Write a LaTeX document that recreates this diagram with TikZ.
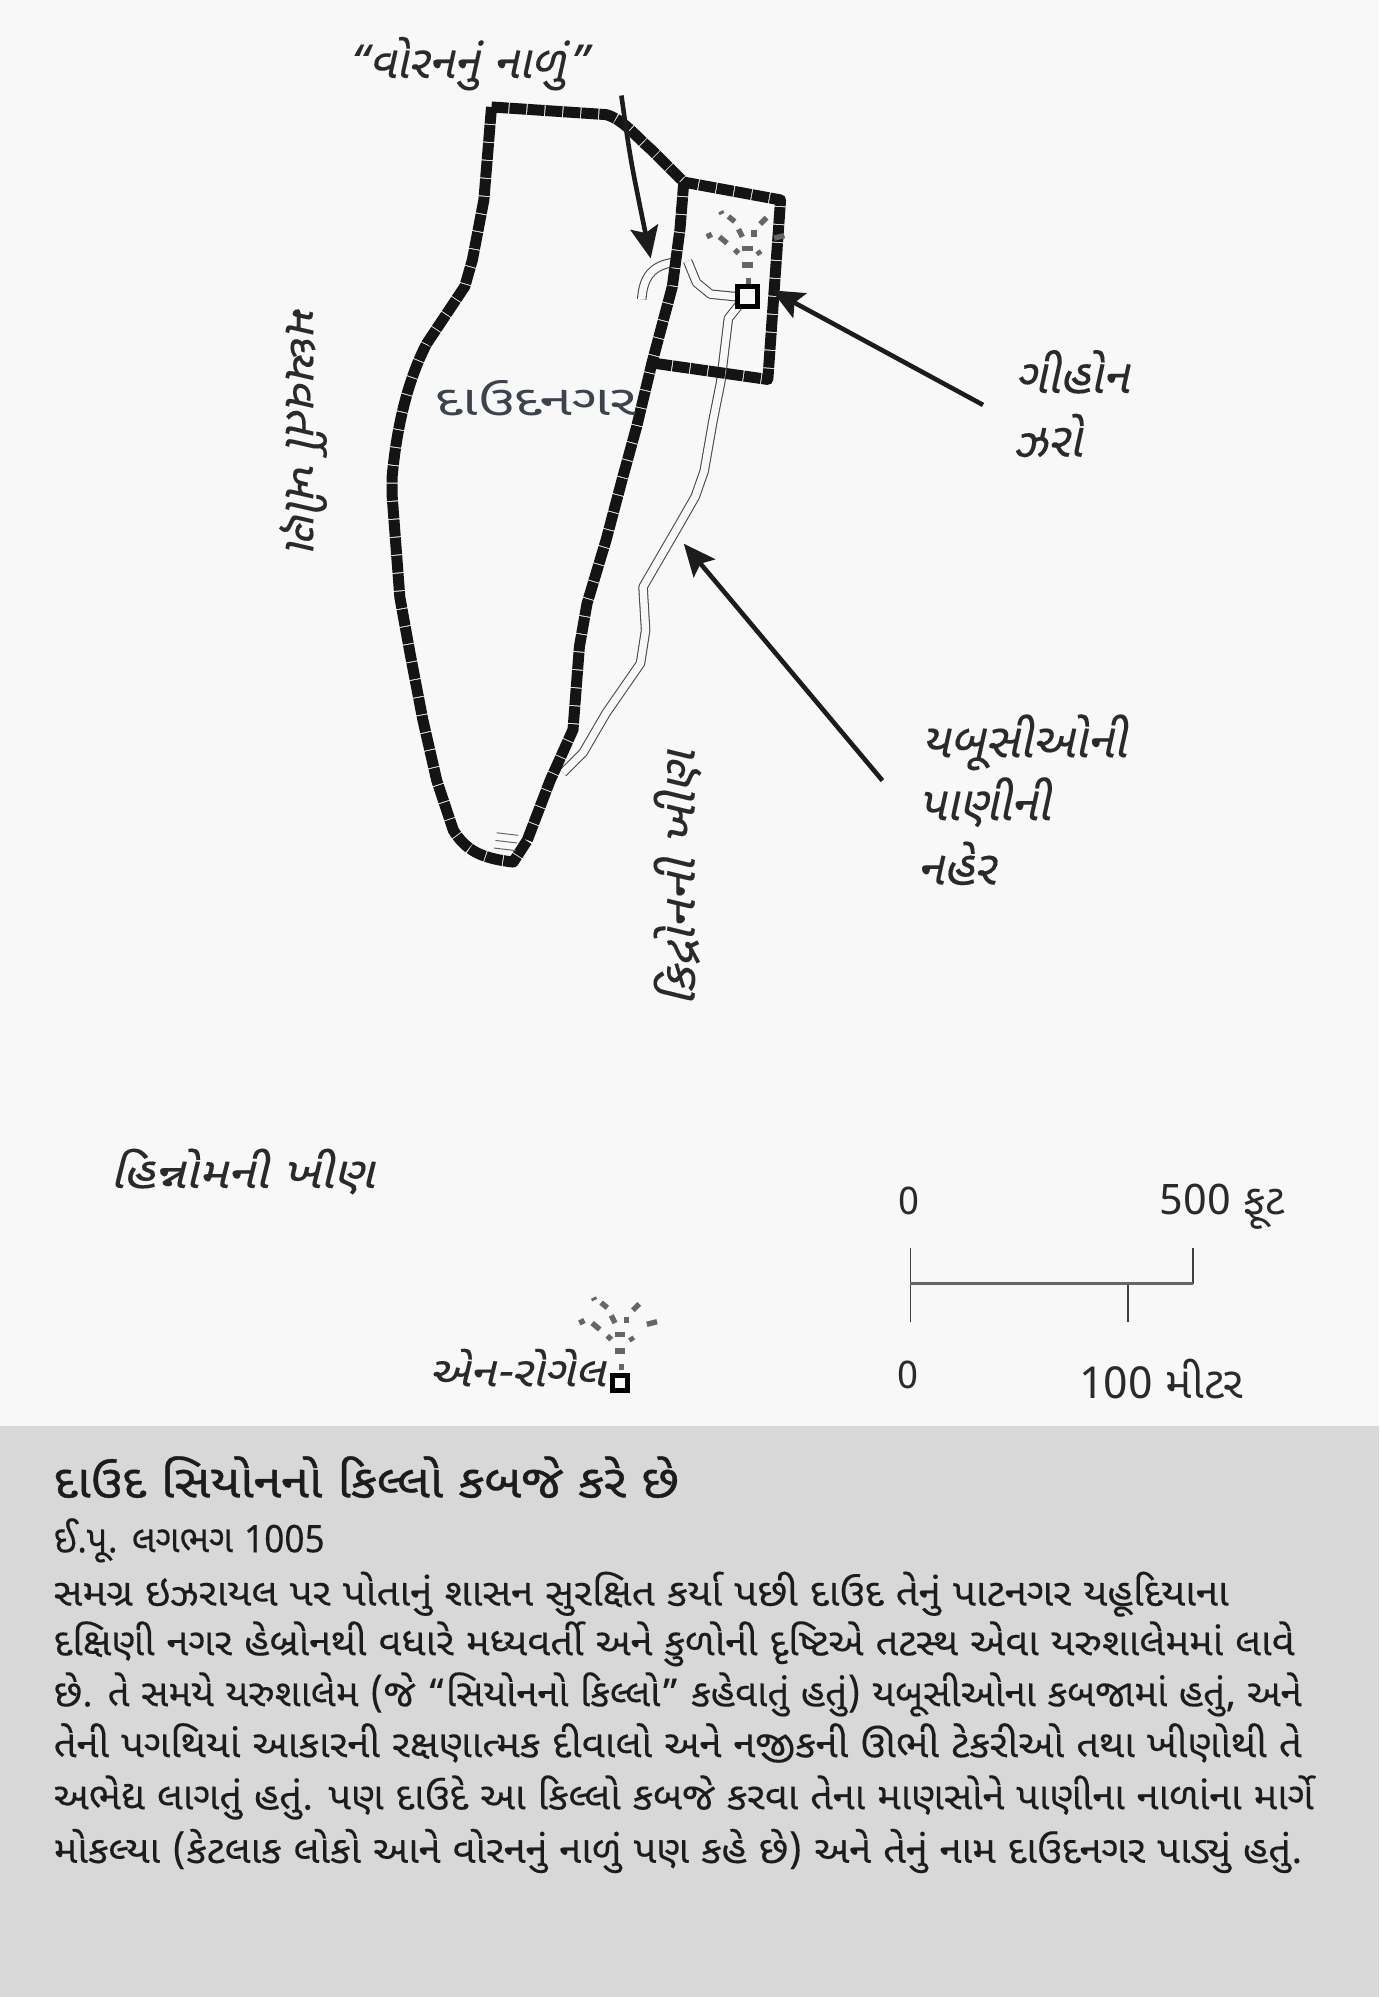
\documentclass[tikz,border=0pt]{standalone}
\usepackage{fontspec}
\usepackage{graphicx}
\usetikzlibrary{arrows.meta,calc}
\setmainfont{Noto Sans Gujarati UI}[Script=Gujarati]
\newfontfamily\guj[Script=Gujarati]{Noto Sans Gujarati UI}
\newfontfamily\gujb[Script=Gujarati,FakeBold=0.8]{Noto Sans Gujarati UI}
\newfontfamily\gujm[Script=Gujarati,FakeBold=0.2]{Noto Sans Gujarati UI}
\newfontfamily\gujit[Script=Gujarati,FakeSlant=0.22,FakeBold=0.2]{Noto Sans Gujarati UI}
\definecolor{pagebg}{HTML}{F8F8F8}
\definecolor{panelbg}{HTML}{D8D8D8}
\definecolor{ink}{HTML}{1C1C1C}
\definecolor{labelink}{HTML}{2A2A2A}
\definecolor{citylabel}{HTML}{3C424E}
\definecolor{springgray}{HTML}{666666}
\tikzset{
  x=1.2733pt,y=-1.2733pt,
  wall/.style={line width=11pt,color=black!92,dash pattern=on 17pt off 1pt,line join=round},
  canalouter/.style={line width=9.5pt,color=black!72,line join=round},
  canalinner/.style={line width=7.4pt,color=pagebg,line join=round},
  pointer/.style={line width=4.6pt,color=ink,-{Stealth[length=32pt,width=28pt,inset=6pt]}},
  thinscale/.style={line width=1.6pt,color=black!75},
  maplabel/.style={font=\gujit\fontsize{48}{52}\selectfont,text=labelink,inner sep=0pt},
  plainlabel/.style={font=\guj\fontsize{38}{42}\selectfont,text=labelink,inner sep=0pt},
  boxmark/.style={draw=black,fill=pagebg,line width=4.5pt,minimum size=20pt,inner sep=0pt},
  body/.style={anchor=base west,inner sep=0pt,text=ink,font=\gujm\fontsize{38}{42}\selectfont},
}
\newcommand{\fitw}[2]{\resizebox{#1pt}{\height}{#2}}
\newcommand{\springdash}[1]{%
  \foreach \ax/\ay/\bx/\by in {-21/-67/-20/-65,-15/-63/-10/-59,15/-62/10/-57,-7/-53/-4/-47,5/-52/5/-47,-32/-47/-28/-49,-22/-47/-16/-42,21/-46/29/-48,-10/-37/-7/-34,-4/-38/4/-38,8/-36/10/-33,-4/-25/4/-25,1/-15/1/-10}{%
    \draw[springgray,line width=5.4pt] ($(#1)+(\ax,\ay)$) -- ($(#1)+(\bx,\by)$);
  }%
}
\begin{document}
\begin{tikzpicture}
\useasboundingbox (0,0) rectangle (1083,1568.3);
\fill[pagebg] (0,0) rectangle (1083,1120);
\fill[panelbg] (0,1120) rectangle (1083,1568.3);

% canal
\draw[canalouter] (530,206) .. controls (512,208) and (505,218) .. (504,235);
\draw[canalinner] (530,206) .. controls (512,208) and (505,218) .. (504,235);
\draw[canalouter] (540,205) -- (547,222) -- (558,231) -- (578,233);
\draw[canalinner] (540,205) -- (547,222) -- (558,231) -- (578,233);
\path[save path=\canalpath] (580,240) -- (572,250) -- (566,300) -- (560,330) -- (553,370) -- (546,390) -- (534,411) -- (505,461) -- (507,495) -- (503,521) -- (476,560) -- (458,591) -- (442,607);
\draw[canalouter,use path=\canalpath];
\draw[canalinner,use path=\canalpath];

% walls
\draw[wall] (386,84) -- (380,157) -- (371,204) -- (365,225) -- (335,270) .. controls (322,295) and (312,330) .. (308,374) -- (308,390) -- (314,469) -- (322,513) -- (332,565) -- (343,613) -- (356,652) .. controls (366,668) and (378,674) .. (403,677) -- (414,660) -- (432,613) -- (450,573) -- (455,508) -- (461,474) -- (476,424) -- (489,375) -- (500,335) -- (512,285) -- (528,225) -- (534,180) -- (537,143);
\draw[wall] (386,84) -- (476,90) .. controls (490,94) and (500,108) .. (512,118) -- (537,143) -- (613,157) -- (603,298) -- (512,285);

% wear ticks at the south tip
\draw[springgray,line width=1pt] (390,654) -- (407,656) (389,660) -- (406,662) (388,666) -- (405,668);

% springs
\node[boxmark] (gihonbox) at (587,233) {};
\springdash{gihonbox}
\node[boxmark,minimum size=15pt] (rogelbox) at (487,1086) {};
\springdash{rogelbox}

% labels
\node[maplabel,font=\gujit\fontsize{46}{50}\selectfont] (warren) at (367,50) {\fitw{243}{“વોરનનું નાળું”}};
\node[maplabel] (gihon) at (842,292) {ગીહોન};
\node[maplabel] (spring) at (823,342) {ઝરો};
\node[plainlabel,font=\guj\fontsize{42}{46}\selectfont,text=citylabel] (city) at (421,313) {\fitw{201}{દાઉદનગર}};
\node[maplabel] (jeb1) at (804,583) {યબૂસીઓની};
\node[maplabel] (jeb2) at (773,630) {પાણીની};
\node[maplabel] (jeb3) at (751,678) {નહેર};
\node[maplabel,font=\gujit\fontsize{46}{50}\selectfont,rotate=-90] (central) at (238,335) {\fitw{245}{મધ્યવર્તી ખીણ}};
\node[maplabel,font=\gujit\fontsize{46}{50}\selectfont,rotate=90] (kidron) at (532,690) {\fitw{255}{કિદ્રોનની ખીણ}};
\node[maplabel,font=\gujit\fontsize{44}{48}\selectfont] (hinnom) at (190,920) {\fitw{264}{હિન્નોમની ખીણ}};
\node[maplabel,font=\gujit\fontsize{42}{46}\selectfont] (rogel) at (406,1074) {\fitw{176}{એન-રોગેલ}};

% pointers
\coordinate (warrenA) at (488,75);
\coordinate (warrenM) at (495,125);
\coordinate (warrenB) at (511,203);
\coordinate (gihonA) at (772,318);
\coordinate (gihonB) at (606,228);
\coordinate (jebA) at (693,613);
\coordinate (jebB) at (537,427);
\draw[pointer] (warrenA) .. controls (warrenM) .. (warrenB);
\draw[pointer] (gihonA) -- (gihonB);
\draw[pointer] (jebA) -- (jebB);

% scale
\coordinate (s0) at (715,1008);
\coordinate (s1) at (937,1008);
\coordinate (s2) at (886,1008);
\coordinate (s0t) at (715,980);
\coordinate (s0b) at (715,1038);
\coordinate (s1t) at (937,980);
\coordinate (s2b) at (886,1038);
\draw[thinscale] (s0t) -- (s0b);
\draw[thinscale] (s1t) -- (s1);
\draw[thinscale] (s2) -- (s2b);
\draw[line width=2.4pt,color=black!60] (s0) -- (s1);
\node[plainlabel] (feet0) at (714,943) {0};
\node[plainlabel,font=\guj\fontsize{42}{46}\selectfont] (feet) at (960,948) {\fitw{125}{500 ફૂટ}};
\node[plainlabel] (m0) at (713,1080) {0};
\node[plainlabel,font=\guj\fontsize{44}{48}\selectfont] (meters) at (912,1083) {\fitw{164}{100 મીટર}};

% caption
\node[body,font=\gujb\fontsize{46}{50}\selectfont] (title) at (42,1176) {\fitw{625}{દાઉદ સિયોનનો કિલ્લો કબજે કરે છે}};
\node[body] (sub) at (42,1219) {\fitw{271}{ઈ.પૂ. લગભગ 1005}};
\node[body] (l1) at (42,1261) {\fitw{1175}{સમગ્ર ઇઝરાયલ પર પોતાનું શાસન સુરક્ષિત કર્યા પછી દાઉદ તેનું પાટનગર યહૂદિયાના}};
\node[body] (l2) at (42,1300) {\fitw{1241}{દક્ષિણી નગર હેબ્રોનથી વધારે મધ્યવર્તી અને કુળોની દૃષ્ટિએ તટસ્થ એવા યરુશાલેમમાં લાવે}};
\node[body] (l3) at (42,1340) {\fitw{1248}{છે. તે સમયે યરુશાલેમ (જે “સિયોનનો કિલ્લો” કહેવાતું હતું) યબૂસીઓના કબજામાં હતું, અને}};
\node[body] (l4) at (42,1380) {\fitw{1248}{તેની પગથિયાં આકારની રક્ષણાત્મક દીવાલો અને નજીકની ઊભી ટેકરીઓ તથા ખીણોથી તે}};
\node[body] (l5) at (42,1421) {\fitw{1260}{અભેદ્ય લાગતું હતું. પણ દાઉદે આ કિલ્લો કબજે કરવા તેના માણસોને પાણીના નાળાંના માર્ગે}};
\node[body] (l6) at (42,1463) {\fitw{1248}{મોકલ્યા (કેટલાક લોકો આને વોરનનું નાળું પણ કહે છે) અને તેનું નામ દાઉદનગર પાડ્યું હતું.}};
\end{tikzpicture}
\end{document}
